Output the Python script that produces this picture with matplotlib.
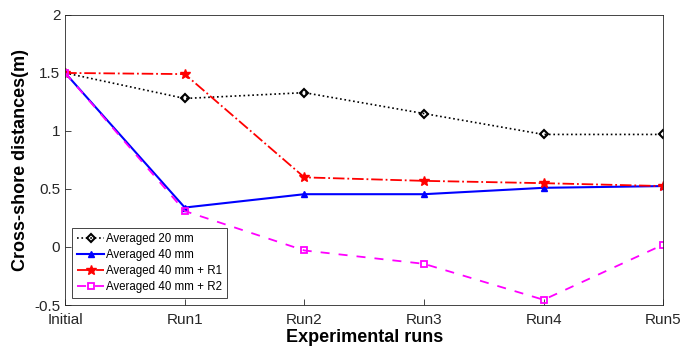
import matplotlib
matplotlib.use('Agg')
import matplotlib.pyplot as plt

plt.rcParams['font.family'] = ['Liberation Sans', 'DejaVu Sans']

runs = ['Initial', 'Run1', 'Run2', 'Run3', 'Run4', 'Run5']
avg_20mm = [1.5, 1.28, 1.33, 1.15, 0.97, 0.97]
avg_40mm = [1.5, 0.34, 0.455, 0.455, 0.51, 0.525]
avg_40mm_r1 = [1.5, 1.49, 0.60, 0.57, 0.55, 0.525]
avg_40mm_r2 = [1.5, 0.31, -0.03, -0.145, -0.455, 0.02]

fig = plt.figure(figsize=(6.93, 3.47), dpi=100)
ax = fig.add_axes([0.094, 0.121, 0.863, 0.836])

x = range(len(runs))
ax.plot(x, avg_20mm, color='black', linestyle=':', marker='D', markersize=4,
        markerfacecolor='none', markeredgewidth=1.5, linewidth=1.2, label='Averaged 20 mm')
ax.plot(x, avg_40mm, color='blue', linestyle='-', marker='^', markersize=5,
        linewidth=1.5, label='Averaged 40 mm')
ax.plot(x, avg_40mm_r1, color='red', linestyle='-.', marker='*', markersize=7,
        linewidth=1.3, label='Averaged 40 mm + R1')
ax.plot(x, avg_40mm_r2, color='magenta', linestyle=(0, (5, 5)), marker='s', markersize=4,
        markerfacecolor='none', markeredgewidth=1.3, linewidth=1.3, label='Averaged 40 mm + R2')

ax.set_xlim(0, 5)
ax.set_ylim(-0.5, 2)
ax.set_xticks(list(x))
ax.set_xticklabels(runs)
ax.set_yticks([-0.5, 0, 0.5, 1, 1.5, 2])
ax.set_yticklabels(['-0.5', '0', '0.5', '1', '1.5', '2'])
ax.tick_params(labelsize=11, colors='#262626', direction='in', length=4, width=0.6)
ax.tick_params(axis='x', pad=6)
for s in ax.spines.values():
    s.set_color('#262626')
    s.set_linewidth(0.6)

ax.set_xlabel('Experimental runs', fontsize=13, fontweight='bold', labelpad=1)
ax.set_ylabel('Cross-shore distances(m)', fontsize=13, fontweight='bold')

leg = ax.legend(loc='lower left', fontsize=8.3, fancybox=False, framealpha=1,
                edgecolor='#262626', handlelength=2.3, handletextpad=0.2,
                borderpad=0.45, labelspacing=0.35, borderaxespad=0.6)
leg.get_frame().set_linewidth(0.6)

fig.savefig('out.png', dpi=100)
